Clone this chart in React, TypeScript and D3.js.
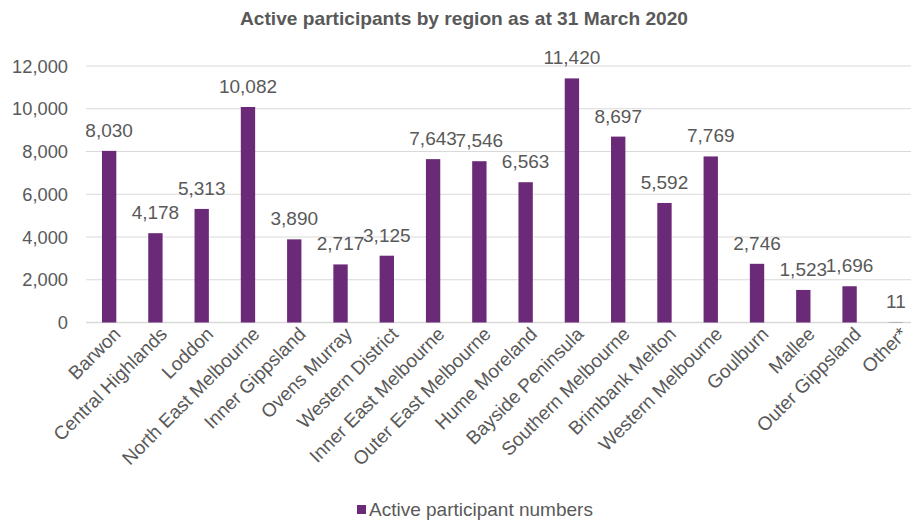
import React from 'react';
import * as d3 from 'd3';

const regions = [
  'Barwon', 'Central Highlands', 'Loddon', 'North East Melbourne', 'Inner Gippsland',
  'Ovens Murray', 'Western District', 'Inner East Melbourne', 'Outer East Melbourne',
  'Hume Moreland', 'Bayside Peninsula', 'Southern Melbourne', 'Brimbank Melton',
  'Western Melbourne', 'Goulburn', 'Mallee', 'Outer Gippsland', 'Other*',
];
const participants = [
  8030, 4178, 5313, 10082, 3890, 2717, 3125, 7643, 7546,
  6563, 11420, 8697, 5592, 7769, 2746, 1523, 1696, 11,
];
const yTicks = [0, 2000, 4000, 6000, 8000, 10000, 12000];

const W = 911;
const H = 520;
const left = 86;
const right = 919;
const top = 66;
const bottom = 322.5;
const purple = '#6B2A78';
const textColor = '#595959';
const font = '"Liberation Sans", Arial, sans-serif';

const App = () => {
  const x = d3.scaleBand().domain(regions).range([left, right]).paddingInner(0.69).paddingOuter(0.345);
  const y = d3.scaleLinear().domain([0, 12000]).range([bottom, top]);
  const fmt = d3.format(',');

  return (
    <svg width={W} height={H} style={{ position: 'absolute', left: 0, top: 0 }} fontFamily={font}>
      <text x={464} y={25} textAnchor="middle" fontSize={18.5} fontWeight="bold" fill={textColor} textLength={448} lengthAdjust="spacingAndGlyphs">
        Active participants by region as at 31 March 2020
      </text>
      <g>
        {yTicks.map(t => (
          <g key={t}>
            <line x1={left} x2={right} y1={y(t)} y2={y(t)} stroke="#D9D9D9" strokeWidth={t === 0 ? 1.5 : 1.2} />
            <text x={68} y={y(t)} dy="0.36em" textAnchor="end" fontSize={18.3} fill={textColor}>{fmt(t)}</text>
          </g>
        ))}
      </g>
      <g>
        {regions.map((r, i) => {
          const v = participants[i];
          const cx = x(r)! + x.bandwidth() / 2;
          return (
            <g key={r}>
              <rect x={x(r)} y={y(v)} width={x.bandwidth()} height={bottom - y(v)} fill={purple} />
              <text x={cx} y={y(v) - 14} textAnchor="middle" fontSize={19} fill={textColor}>{fmt(v)}</text>
              <text transform={`translate(${cx + 8},${bottom + 8}) rotate(-45)`} dy="0.35em" textAnchor="end" fontSize={19} fill={textColor}>{r}</text>
            </g>
          );
        })}
      </g>
      <g>
        <rect x={357} y={505} width={9} height={9} fill={purple} />
        <text x={369} y={516} fontSize={19} fill={textColor}>Active participant numbers</text>
      </g>
    </svg>
  );
};

export default App;
